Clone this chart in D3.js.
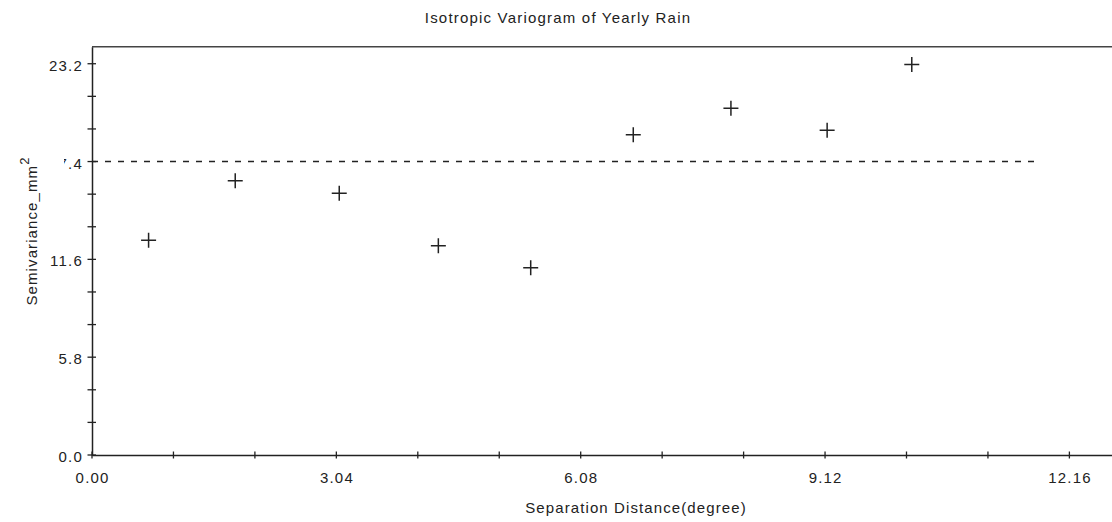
<!DOCTYPE html>
<html>
<head>
<meta charset="utf-8">
<script src="https://cdn.jsdelivr.net/npm/d3@7"></script>
<style>
  html, body { margin: 0; padding: 0; background: #fff; }
  svg { display: block; }
  text { font-family: "Liberation Sans", Arial, sans-serif; fill: #222; }
</style>
</head>
<body>
<svg id="chart" width="1112" height="522"></svg>
<script>
// ---- data ----
const lagDistance = [0.704, 1.782, 3.076, 4.309, 5.458, 6.734, 7.949, 9.146, 10.199];
const semivariance = [12.73, 16.26, 15.52, 12.41, 11.11, 18.99, 20.56, 19.25, 23.16];
const sillValue = 17.4;
const sillRange = [0, 11.73];
const xTickValues = [0, 3.04, 6.08, 9.12, 12.16];
const xTickLabels = ["0.00", "3.04", "6.08", "9.12", "12.16"];
const yTickValues = [0, 5.8, 11.6, 17.4, 23.2];
const yTickLabels = ["0.0", "5.8", "11.6", "17.4", "23.2"];
const xMinorStep = 1.01333;
const yMinorStep = 1.93333;
const titleText = "Isotropic Variogram of Yearly Rain";
const xTitle = "Separation Distance(degree)";
const yTitle = "Semivariance_mm";

// ---- layout ----
const svg = d3.select("#chart");
const mLeft = 92, mRight = 1112, mTop = 46.7, mBottom = 455;
const x = d3.scaleLinear().domain([0, 12.69]).range([mLeft, mRight]);
const y = d3.scaleLinear().domain([0, 24.21]).range([mBottom, mTop]);
const ink = "#222";

// frame top line
svg.append("line").attr("x1", mLeft).attr("x2", mRight).attr("y1", mTop).attr("y2", mTop)
  .attr("stroke", "#444").attr("stroke-width", 1.6);

// x axis
const xAxis = d3.axisBottom(x).tickValues([]).tickSizeOuter(0);
const gx = svg.append("g").attr("transform", `translate(0,${mBottom})`).call(xAxis);
gx.select(".domain").attr("stroke", ink).attr("stroke-width", 1.5);
const xMinor = d3.range(0, 12.2, xMinorStep);
svg.append("g").selectAll("line").data(xMinor).join("line")
  .attr("x1", d => x(d)).attr("x2", d => x(d))
  .attr("y1", mBottom - 3.5).attr("y2", mBottom + 3.5)
  .attr("stroke", ink).attr("stroke-width", 1.3);
svg.append("g").selectAll("text").data(xTickValues).join("text")
  .attr("x", d => x(d) + 0.6).attr("y", 483)
  .attr("text-anchor", "middle")
  .attr("font-size", 15).attr("letter-spacing", "1.2px")
  .text((d, i) => xTickLabels[i]);

// y axis
const yAxis = d3.axisLeft(y).tickValues([]).tickSizeOuter(0);
const gy = svg.append("g").attr("transform", `translate(${mLeft},0)`).call(yAxis);
gy.select(".domain").attr("stroke", ink).attr("stroke-width", 1.5);
const yMinor = d3.range(0, 23.3, yMinorStep);
svg.append("g").selectAll("line").data(yMinor).join("line")
  .attr("x1", mLeft - 4.5).attr("x2", mLeft + 4)
  .attr("y1", d => y(d)).attr("y2", d => y(d))
  .attr("stroke", ink).attr("stroke-width", 1.3);

// clip for partially hidden label
const defs = svg.append("defs");
defs.append("clipPath").attr("id", "ylabClip")
  .append("rect").attr("x", 64).attr("y", 0).attr("width", 40).attr("height", 522);
svg.append("g").selectAll("text").data(yTickValues).join("text")
  .attr("x", 83).attr("y", d => y(d) + 7)
  .attr("text-anchor", "end")
  .attr("font-size", 15).attr("letter-spacing", "1.2px")
  .attr("clip-path", d => d === 17.4 ? "url(#ylabClip)" : null)
  .text((d, i) => yTickLabels[i]);

// sill dashed line
svg.append("line")
  .attr("x1", x(sillRange[0])).attr("x2", x(sillRange[1]))
  .attr("y1", y(sillValue)).attr("y2", y(sillValue))
  .attr("stroke", ink).attr("stroke-width", 1.5)
  .attr("stroke-dasharray", "6,7");

// points as plus markers
const pts = lagDistance.map((d, i) => [d, semivariance[i]]);
const arm = 7.5;
const pg = svg.append("g").attr("stroke", ink).attr("stroke-width", 1.5);
pg.selectAll("path").data(pts).join("path")
  .attr("d", d => {
    const px = x(d[0]), py = y(d[1]);
    return `M${px - arm},${py}H${px + arm}M${px},${py - arm}V${py + arm}`;
  });

// titles
svg.append("text").attr("x", 558).attr("y", 23)
  .attr("text-anchor", "middle").attr("font-size", 15).attr("letter-spacing", "1.2px")
  .text(titleText);
svg.append("text").attr("x", 636).attr("y", 513)
  .attr("text-anchor", "middle").attr("font-size", 15).attr("letter-spacing", "1.1px")
  .text(xTitle);
const yt = svg.append("text")
  .attr("transform", "translate(37,231) rotate(-90)")
  .attr("text-anchor", "middle").attr("font-size", 15).attr("letter-spacing", "1.1px");
yt.append("tspan").text(yTitle);
yt.append("tspan").attr("dy", -8).attr("font-size", 13).text("2");
</script>
</body>
</html>
